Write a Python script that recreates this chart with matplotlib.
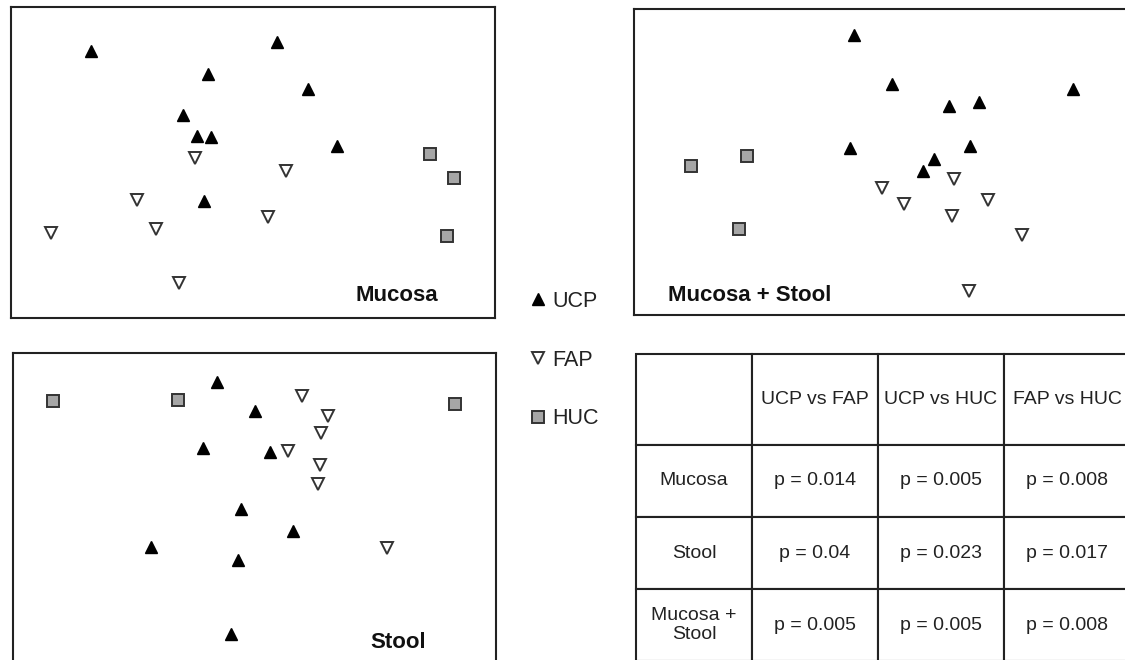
import matplotlib
matplotlib.use("Agg")
import matplotlib.pyplot as plt
from matplotlib.lines import Line2D

plt.rcParams["font.family"] = ["Liberation Sans", "DejaVu Sans"]

###############################################################################
# Ordination scores (axis units, no ticks shown)

mucosa_ucp_x = [0.165, 0.550, 0.406, 0.614, 0.356, 0.384, 0.413, 0.674, 0.399]
mucosa_ucp_y = [0.859, 0.888, 0.785, 0.735, 0.653, 0.585, 0.583, 0.553, 0.375]
mucosa_fap_x = [0.381, 0.569, 0.260, 0.530, 0.082, 0.300, 0.348]
mucosa_fap_y = [0.515, 0.473, 0.380, 0.325, 0.274, 0.285, 0.112]
mucosa_huc_x = [0.866, 0.915, 0.901]
mucosa_huc_y = [0.528, 0.449, 0.264]

both_ucp_x = [0.444, 0.521, 0.636, 0.696, 0.886, 0.435, 0.677, 0.604, 0.583]
both_ucp_y = [0.915, 0.754, 0.682, 0.696, 0.738, 0.547, 0.553, 0.509, 0.472]
both_fap_x = [0.646, 0.499, 0.545, 0.714, 0.641, 0.782, 0.676]
both_fap_y = [0.444, 0.416, 0.363, 0.376, 0.324, 0.260, 0.079]
both_huc_x = [0.114, 0.228, 0.212]
both_huc_y = [0.486, 0.521, 0.282]

stool_ucp_x = [0.422, 0.500, 0.393, 0.532, 0.472, 0.580, 0.285, 0.466, 0.451]
stool_ucp_y = [0.908, 0.814, 0.696, 0.682, 0.498, 0.428, 0.375, 0.334, 0.095]
stool_fap_x = [0.599, 0.653, 0.638, 0.569, 0.636, 0.631, 0.774]
stool_fap_y = [0.863, 0.797, 0.744, 0.684, 0.639, 0.580, 0.372]
stool_huc_x = [0.083, 0.342, 0.916]
stool_huc_y = [0.847, 0.849, 0.835]

# p-value table
col_labels = ["", "UCP vs FAP", "UCP vs HUC", "FAP vs HUC"]
row_labels = ["Mucosa", "Stool", "Mucosa +\nStool"]
p_values = [
    ["p = 0.014", "p = 0.005", "p = 0.008"],
    ["p = 0.04", "p = 0.023", "p = 0.017"],
    ["p = 0.005", "p = 0.005", "p = 0.008"],
]

###############################################################################

W, H = 1125, 660
fig = plt.figure(figsize=(W / 100, H / 100), dpi=100)

def fig_box(left, top, right, bottom):
    # pixel box -> figure fraction [l, b, w, h]
    return [left / W, 1 - bottom / H, (right - left) / W, (bottom - top) / H]

ucp_style = dict(marker="^", color="black", markersize=8.5, linestyle="none")
fap_style = dict(marker="v", markerfacecolor="white", markeredgecolor="#333333",
                 markeredgewidth=1.4, markersize=8.5, linestyle="none")
huc_style = dict(marker="s", markerfacecolor="#a6a6a6", markeredgecolor="#333333",
                 markeredgewidth=1.4, markersize=8.5, linestyle="none")

def scatter_panel(box, ucp, fap, huc, label, label_xy, ha):
    ax = fig.add_axes(box)
    ax.plot(*ucp, **ucp_style)
    ax.plot(*fap, **fap_style)
    ax.plot(*huc, **huc_style)
    ax.set_xlim(0, 1)
    ax.set_ylim(0, 1)
    ax.set_xticks([])
    ax.set_yticks([])
    for s in ax.spines.values():
        s.set_linewidth(1.5)
        s.set_color("#222222")
    ax.text(*label_xy, label, transform=ax.transAxes, ha=ha, va="center",
            fontsize=16, fontweight="bold", color="#111111")
    return ax

scatter_panel(fig_box(11, 7, 495, 318),
              (mucosa_ucp_x, mucosa_ucp_y), (mucosa_fap_x, mucosa_fap_y),
              (mucosa_huc_x, mucosa_huc_y), "Mucosa", (0.798, 0.071), "center")
scatter_panel(fig_box(634, 9, 1130, 315),
              (both_ucp_x, both_ucp_y), (both_fap_x, both_fap_y),
              (both_huc_x, both_huc_y), "Mucosa + Stool", (0.068, 0.064), "left")
scatter_panel(fig_box(13, 353, 496, 664),
              (stool_ucp_x, stool_ucp_y), (stool_fap_x, stool_fap_y),
              (stool_huc_x, stool_huc_y), "Stool", (0.797, 0.068), "center")

# Legend
handles = [Line2D([], [], **ucp_style), Line2D([], [], **fap_style),
           Line2D([], [], **huc_style)]
fig.legend(handles, ["UCP", "FAP", "HUC"], loc="center left",
           bbox_to_anchor=(510 / W, 1 - 360 / H), frameon=False,
           fontsize=15.5, labelspacing=1.75, handlelength=0.8,
           handletextpad=0.25, markerscale=0.95, labelcolor="#222222")

# Table
tax = fig.add_axes(fig_box(636, 354, 1130, 661))
tax.axis("off")
cell_text = [col_labels[1:]] + p_values
row_text = [""] + row_labels
full = [[r] + c for r, c in zip(row_text, cell_text)]
tbl = tax.table(cellText=full, cellLoc="center", bbox=[0, 0, 1, 1])
tbl.auto_set_font_size(False)
col_w = [116, 126, 126, 126]
row_h = [91, 72, 72, 72]
for (r, c), cell in tbl.get_celld().items():
    cell.set_width(col_w[c])
    cell.set_height(row_h[r])
    cell.set_linewidth(1.5)
    cell.set_edgecolor("#222222")
    cell.get_text().set_fontsize(14)
    cell.get_text().set_color("#222222")

fig.savefig("out.png", dpi=100)
